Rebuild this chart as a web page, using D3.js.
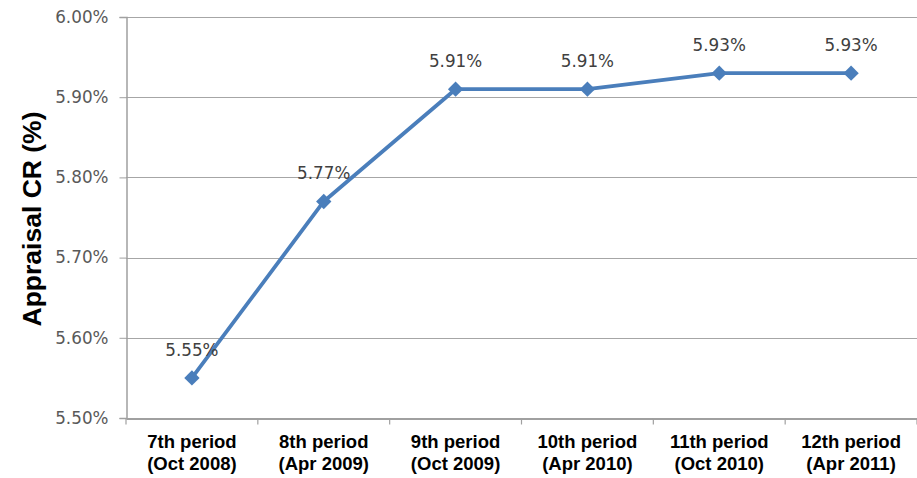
<!DOCTYPE html>
<html>
<head>
<meta charset="utf-8">
<script src="https://cdn.jsdelivr.net/npm/d3@7"></script>
<style>
  body { margin: 0; background: #fff; }
  svg { display: block; }
</style>
</head>
<body>
<svg id="chart" width="917" height="478"></svg>
<script>
// chart data
const periods = ["7th period", "8th period", "9th period", "10th period", "11th period", "12th period"];
const dates = ["(Oct 2008)", "(Apr 2009)", "(Oct 2009)", "(Apr 2010)", "(Oct 2010)", "(Apr 2011)"];
const crValues = [5.55, 5.77, 5.91, 5.91, 5.93, 5.93];
const yTicks = [5.50, 5.60, 5.70, 5.80, 5.90, 6.00];

const svg = d3.select("#chart");
const m = { left: 126, right: 917, top: 17, bottom: 418 };

const x = d3.scaleBand().domain(periods).range([m.left, m.right]);
const y = d3.scaleLinear().domain([5.5, 6.0]).range([m.bottom, m.top]);

// gridlines
svg.append("g").selectAll("line")
  .data(yTicks.slice(1))
  .join("line")
  .attr("x1", m.left).attr("x2", m.right)
  .attr("y1", d => Math.round(y(d)) + 0.5).attr("y2", d => Math.round(y(d)) + 0.5)
  .attr("stroke", "#a6a6a6").attr("stroke-width", 1.2);

// y axis
const yAxis = svg.append("g")
  .attr("transform", `translate(${m.left + 0.5},0)`)
  .call(d3.axisLeft(y).tickValues(yTicks).tickFormat(d => d.toFixed(2) + "%").tickSize(7).tickPadding(11));
yAxis.select(".domain").attr("stroke", "#a0a0a0").attr("stroke-width", 1.5);
yAxis.selectAll(".tick line").attr("stroke", "#a0a0a0");
yAxis.selectAll("text")
  .attr("font-family", "DejaVu Sans, Verdana, sans-serif")
  .attr("font-size", 16.8).attr("fill", "#595959");

// x axis
const xAxis = svg.append("g")
  .attr("transform", `translate(0,${m.bottom + 0.5})`)
  .call(d3.axisBottom(x).tickSize(0).tickFormat(""));
xAxis.select(".domain").attr("stroke", "#a0a0a0").attr("stroke-width", 2);
xAxis.selectAll(".xt")
  .data(d3.range(periods.length + 1))
  .join("line")
  .attr("class", "xt")
  .attr("x1", i => m.left + i * x.step()).attr("x2", i => m.left + i * x.step())
  .attr("y1", 0).attr("y2", 6)
  .attr("stroke", "#a0a0a0").attr("stroke-width", 1.2);

const xl = svg.append("g")
  .attr("font-family", "Liberation Sans, Arial, sans-serif")
  .attr("font-weight", "bold").attr("font-size", 18.5)
  .attr("text-anchor", "middle").attr("fill", "#000");
xl.selectAll(".p").data(periods).join("text")
  .attr("x", d => x(d) + x.bandwidth() / 2).attr("y", 448).text(d => d);
xl.selectAll(".d").data(dates).join("text")
  .attr("x", (d, i) => x(periods[i]) + x.bandwidth() / 2).attr("y", 470).text(d => d);

// y axis title
svg.append("text")
  .attr("transform", "translate(41,219) rotate(-90)")
  .attr("text-anchor", "middle")
  .attr("font-family", "Liberation Sans, Arial, sans-serif")
  .attr("font-weight", "bold").attr("font-size", 26.5)
  .text("Appraisal CR (%)");

// line + markers
const pts = crValues.map((v, i) => [x(periods[i]) + x.bandwidth() / 2, y(v)]);
svg.append("path")
  .attr("d", d3.line()(pts))
  .attr("fill", "none").attr("stroke", "#4a7ebb").attr("stroke-width", 3.8)
  .attr("stroke-linejoin", "round");

svg.append("g").selectAll("path")
  .data(pts)
  .join("path")
  .attr("transform", d => `translate(${d[0]},${d[1]})`)
  .attr("d", d3.symbol().type(d3.symbolDiamond2).size(150))
  .attr("fill", "#4a7ebb");

// data labels
svg.append("g").selectAll("text")
  .data(crValues)
  .join("text")
  .attr("x", (d, i) => pts[i][0])
  .attr("y", (d, i) => pts[i][1] - 22)
  .attr("text-anchor", "middle")
  .attr("font-family", "DejaVu Sans, Verdana, sans-serif")
  .attr("font-size", 16.8).attr("fill", "#404040")
  .text(d => d.toFixed(2) + "%");
</script>
</body>
</html>
